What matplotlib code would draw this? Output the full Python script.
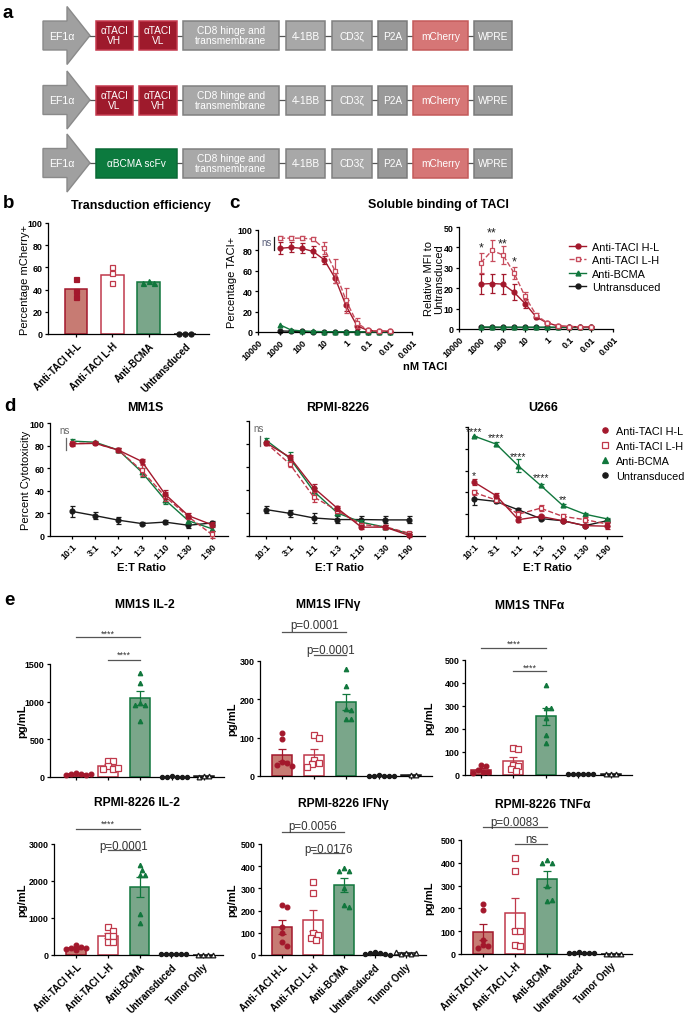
import numpy as np
import matplotlib
matplotlib.use('Agg')
import matplotlib.pyplot as plt
import matplotlib.transforms as mtransforms
from matplotlib.patches import Polygon, Rectangle
from matplotlib.lines import Line2D

plt.rcParams['font.family'] = ['Liberation Sans', 'DejaVu Sans']
plt.rcParams['axes.linewidth'] = 0.9

# ---------------- data ----------------
promoter = 'EF1α'
construct_rows = [
    ['αTACI\nVH', 'αTACI\nVL', 'CD8 hinge and\ntransmembrane', '4-1BB', 'CD3ζ', 'P2A', 'mCherry', 'WPRE'],
    ['αTACI\nVL', 'αTACI\nVH', 'CD8 hinge and\ntransmembrane', '4-1BB', 'CD3ζ', 'P2A', 'mCherry', 'WPRE'],
    ['αBCMA scFv', 'CD8 hinge and\ntransmembrane', '4-1BB', 'CD3ζ', 'P2A', 'mCherry', 'WPRE'],
]

b_groups = ['Anti-TACI H-L', 'Anti-TACI L-H', 'Anti-BCMA', 'Untransduced']
b_means = [40.5, 53.0, 46.5, 0.0]
b_points = [[50, 39, 33.5], [60, 55, 46], [48, 46, 46], [0, 0, 0]]

c_conc = [1000, 316, 100, 31.6, 10, 3.16, 1, 0.316, 0.1, 0.0316, 0.01]
c_ticks = [10000, 1000, 100, 10, 1, 0.1, 0.01, 0.001]
c_tick_labels = ['10000', '1000', '100', '10', '1', '0.1', '0.01', '0.001']
c_series = ['Anti-TACI H-L', 'Anti-TACI L-H', 'Anti-BCMA', 'Untransduced']
c_pct_HL = [82, 83, 82, 79, 71, 53, 26, 6, 1.5, 1, 0.8]
c_pct_HL_err = [6, 5, 5, 5, 4, 5, 5, 3, 1, 0.5, 0.5]
c_pct_LH = [92, 92, 92, 91, 82, 60, 31, 9, 1.5, 1, 0.8]
c_pct_LH_err = [2, 2, 2, 2, 6, 12, 12, 5, 1, 0.5, 0.5]
c_pct_BCMA = [7, 2, 1, 0.5, 0.3, 0.2, 0.2, 0.1, 0.1, 0.1, 0.1]
c_pct_UT = [1, 0.8, 0.5, 0.4, 0.3, 0.2, 0.2, 0.1, 0.1, 0.1, 0.1]
c_mfi_HL = [22, 22.3, 22, 18, 12.5, 6, 3, 1.5, 1.2, 1.1, 1.0]
c_mfi_HL_err = [5, 4.7, 5, 4, 2, 1, 0.5, 0.3, 0.2, 0.1, 0.1]
c_mfi_LH = [32.5, 38.5, 36.3, 27.5, 16, 7, 3, 1.6, 1.2, 1.1, 1.0]
c_mfi_LH_err = [5, 5, 4.5, 3, 2, 1, 0.5, 0.3, 0.2, 0.1, 0.1]
c_mfi_BCMA = [1.0, 1.0, 0.9, 0.9, 0.9, 0.9, 0.9, 0.9, 0.9, 0.9, 0.9]
c_mfi_UT = [1.0] * 11

d_ratios = ['10:1', '3:1', '1:1', '1:3', '1:10', '1:30', '1:90']
d_lines = ['MM1S', 'RPMI-8226', 'U266']
d_HL = [[81.5, 82, 76, 66, 37, 18, 10], [81, 68.6, 42, 24, 7.7, 7.7, 0.5], [49.5, 37, 15, 18, 14, 9.5, 9]]
d_HL_err = [[1.5, 1, 1.5, 2, 4, 2, 2], [2, 2, 3, 2, 2, 1.5, 1], [2.5, 2, 2.5, 1.5, 1.5, 1.5, 2.5]]
d_LH = [[82, 82, 76, 58, 35, 17, 1.5], [81, 62.6, 34, 22, 10, 8, 2.5], [40, 33, 20, 25.5, 18, 15, 11]]
d_LH_err = [[1.5, 1, 1.5, 5, 4, 2, 3], [2, 3, 4, 2, 1.5, 1.5, 1], [2.5, 2, 2.5, 3, 2, 2, 2]]
d_BCMA = [[84, 83, 76, 56.5, 32, 13.5, 6.5], [83.4, 67.7, 39, 20, 12, 7.7, 2], [91.7, 84.3, 64.3, 46.5, 28, 20, 15.7]]
d_BCMA_err = [[1.5, 1, 1.5, 4, 4, 2, 2], [2, 5, 3, 2, 2, 1.5, 1.5], [0.5, 2, 6, 1.5, 1, 1, 1]]
d_UT = [[21.8, 18, 14, 11, 12.3, 9.5, 11.5], [23, 19.7, 15.7, 14.3, 14.3, 14, 14], [34, 31.7, 24, 16, 14, 9.5, 14]]
d_UT_err = [[5, 3, 3, 1.5, 1.5, 2, 2], [3, 3, 4, 3, 3, 3, 3], [6, 1.5, 2, 1, 1, 1.5, 1.5]]

e_groups = ['Anti-TACI H-L', 'Anti-TACI L-H', 'Anti-BCMA', 'Untransduced', 'Tumor Only']
e_titles = ['MM1S IL-2', 'MM1S IFNγ', 'MM1S TNFα', 'RPMI-8226 IL-2', 'RPMI-8226 IFNγ', 'RPMI-8226 TNFα']
e_ymax = [1500, 300, 500, 3000, 500, 500]
e_ystep = [500, 100, 100, 1000, 100, 100]
e_data = [
    [[50, 45, 38, 30, 25, 35], [215, 210, 150, 100, 105, 115], [1380, 1250, 983, 957, 957, 739], [8, 6, 5, 4, 3, 5], [10, 8, 6]],
    [[112, 97, 37, 35, 28, 26], [106, 99, 42, 33, 31, 24], [279, 234, 175, 171, 150, 150], [2, 1, 1, 1, 1, 1], [3, 2]],
    [[42, 38, 22, 15, 12, 10], [117, 114, 45, 38, 26, 19], [390, 293, 293, 247, 173, 139], [6, 5, 4, 4, 3, 5], [5, 4, 3]],
    [[260, 220, 200, 180, 150, 130], [748, 658, 523, 523, 342, 342], [2432, 2306, 2162, 2162, 1108, 865], [25, 20, 20, 15, 15, 20], [10, 10, 10, 10]],
    [[224, 214, 126, 98, 59, 41], [330, 279, 98, 90, 78, 68], [392, 380, 380, 300, 223, 214], [12, 10, 8, 5, 3, 2], [10, 6, 3, 8, 12]],
    [[221, 193, 63, 41, 37, 26], [421, 365, 102, 102, 39, 37], [414, 399, 399, 297, 234, 238], [8, 6, 5, 5, 4, 3], [2, 2, 2, 2]],
]
e_sig = [
    ('****', '****'), ('p=0.0001', 'p=0.0001'), ('****', '****'),
    ('****', 'p=0.0001'), ('p=0.0056', 'p=0.0176'), ('p=0.0083', 'ns'),
]

# ---------------- style ----------------
HL = '#a3182c'
LH = '#c0394b'
LHc = '#c74c5d'
GR = '#11773d'
BK = '#1a1a1a'
HL_FILL = '#c77b73'
GR_FILL = '#7aa68a'

W, H = 685, 1020
fig = plt.figure(figsize=(W / 100, H / 100), dpi=100)
ax0 = fig.add_axes([0, 0, 1, 1])
ax0.set_xlim(0, W)
ax0.set_ylim(H, 0)
ax0.axis('off')
ax0.set_zorder(10)
PIX = ax0.transData

TICK_FS = 6.4
CAT_FS = 6.9
LAB_FS = 8.0
TITLE_FS = 9.0
LET_FS = 13.5


def pax(l, t, r, b):
    return fig.add_axes([l / W, 1 - b / H, (r - l) / W, (b - t) / H])


def gp(ax, fs=TICK_FS):
    for s in ['top', 'right']:
        ax.spines[s].set_visible(False)
    for s in ['left', 'bottom']:
        ax.spines[s].set_linewidth(0.9)
    ax.tick_params(direction='out', length=2.5, width=0.9, labelsize=fs, pad=1.5)
    plt.setp(ax.get_xticklabels() + ax.get_yticklabels(), fontweight='bold')
    ax.patch.set_alpha(0)


def txt(x, y, s, **kw):
    kw.setdefault('ha', 'center')
    kw.setdefault('va', 'center')
    ax0.text(x, y, s, **kw)


def star(ax, x, y, s, fs=6, color='#222'):
    ax.annotate(s, (x, y), xytext=(0, -0.32 * fs), textcoords='offset points',
                ha='center', va='center', fontsize=fs, color=color, annotation_clip=False)


def swarm_x(ax, x0, ys, d=5.0):
    placed, xs = [], []
    inv = ax.transData.inverted()
    cands = [0]
    for k in range(1, 10):
        cands += [k * 0.5, -k * 0.5]
    for y in ys:
        X, Y = ax.transData.transform((x0, y))
        for c in cands:
            px = X + c * d
            if all((px - qx) ** 2 + (Y - qy) ** 2 >= (0.95 * d) ** 2 for qx, qy in placed):
                break
        placed.append((px, Y))
        xs.append(inv.transform((px, Y))[0])
    return xs


# ---------------- panel a ----------------
slot_x = [(96, 133), (139, 177), (183, 279), (286, 325), (332, 372), (378, 407), (413, 468), (474, 512)]
row_c = [36.5, 101, 164]


def box_style(lbl):
    if lbl.startswith('αTACI'):
        return '#9e1a2c', '#c53a4e'
    if lbl.startswith('αBCMA'):
        return '#0c7a3e', '#0a6a35'
    if lbl == 'mCherry':
        return '#d67676', '#c45a5a'
    if lbl in ('P2A', 'WPRE'):
        return '#999999', '#7a7a7a'
    return '#a8a8a8', '#808080'


for r, labels in enumerate(construct_rows):
    yc = row_c[r]
    ax0.plot([88, 476], [yc, yc], color='#555555', lw=0.9, zorder=1)
    arrow = Polygon([(43, yc - 14.5), (67, yc - 14.5), (67, yc - 29), (90, yc), (67, yc + 29),
                     (67, yc + 14.5), (43, yc + 14.5)], closed=True, fc='#a0a0a0', ec='#8a8a8a', lw=1, zorder=2)
    ax0.add_patch(arrow)
    txt(62, yc, promoter, color='white', fontsize=7.6, zorder=3)
    slots = list(slot_x)
    if len(labels) == 7:
        slots = [(slot_x[0][0], slot_x[1][1])] + slot_x[2:]
    for (x0, x1), lbl in zip(slots, labels):
        fc, ec = box_style(lbl)
        ax0.add_patch(Rectangle((x0, yc - 14.5), x1 - x0, 29, fc=fc, ec=ec, lw=1.1, zorder=2))
        txt((x0 + x1) / 2, yc, lbl, color='white', fontsize=7.3, linespacing=1.0, zorder=3)

txt(3, 13, 'a', fontsize=LET_FS, fontweight='bold', ha='left')

# ---------------- panel b ----------------
axb = pax(48, 224, 209, 335)
xb = np.arange(len(b_groups))
axb.set_xlim(-0.77, 3.66)
axb.set_ylim(0, 100)
b_fill = [HL_FILL, 'white', GR_FILL, 'white']
b_edge = [HL, LH, GR, BK]
axb.bar(xb, b_means, width=0.63, color=b_fill, edgecolor=b_edge, linewidth=1.1, zorder=2)
b_mk = ['s', 's', '^', 'o']
b_mfc = [HL, 'white', GR, BK]
for i in range(len(b_groups)):
    xs = swarm_x(axb, xb[i], b_points[i], 5.8)
    axb.plot(xs, b_points[i], ls='none', marker=b_mk[i], ms=3.6, mfc=b_mfc[i], mec=b_edge[i], mew=0.9,
             zorder=3, clip_on=False)
axb.set_yticks(range(0, 101, 20))
axb.set_xticks(xb)
axb.set_xticklabels(b_groups, rotation=45, ha='right', rotation_mode='anchor')
gp(axb)
axb.tick_params(axis='x', labelsize=CAT_FS, pad=2)
txt(141, 206, 'Transduction efficiency', fontsize=TITLE_FS, fontweight='bold')
txt(25, 280, 'Percentage mCherry+', rotation=90, fontsize=LAB_FS)
txt(3, 204, 'b', fontsize=LET_FS, fontweight='bold', ha='left')

# ---------------- panel c ----------------
axc1 = pax(258, 231, 412, 333)
axc2 = pax(459, 228, 613, 330)
c_left = [(c_pct_HL, c_pct_HL_err), (c_pct_LH, c_pct_LH_err), (c_pct_BCMA, None), (c_pct_UT, None)]
c_right = [(c_mfi_HL, c_mfi_HL_err), (c_mfi_LH, c_mfi_LH_err), (c_mfi_BCMA, None), (c_mfi_UT, None)]
c_col = [HL, LHc, GR, BK]
c_mk = ['o', 's', '^', 'o']
c_mfc = [HL, 'white', GR, BK]
c_ls = ['-', '--', '-', '-']
c_z = [4, 5, 3, 2]
for ax, series, ymax, ystep in [(axc1, c_left, 100, 20), (axc2, c_right, 50, 10)]:
    ax.set_xscale('log')
    for (y, e), col, mk, mfc, ls, z in zip(series, c_col, c_mk, c_mfc, c_ls, c_z):
        ax.errorbar(c_conc, y, yerr=e, color=col, marker=mk, ms=3.5, mfc=mfc, mec=col, mew=0.9, ls=ls,
                    lw=1.0, capsize=1.8, elinewidth=0.9, capthick=0.9, zorder=z, clip_on=False)
    ax.set_xlim(10000, 0.001)
    ax.set_ylim(0, ymax)
    ax.set_yticks(np.arange(0, ymax + 1, ystep))
    ax.set_xticks(c_ticks)
    ax.set_xticklabels(c_tick_labels, rotation=45, ha='right', rotation_mode='anchor')
    ax.minorticks_off()
    gp(ax)
axc1.text(4000, 88, 'ns', ha='center', va='center', fontsize=7, color='#5a5f7a')
axc1.plot([1780, 1780], [80, 93], color=BK, lw=0.9)
for x, y, s in [(1000, 41.8, '*'), (316, 49.5, '**'), (100, 44, '**'), (31.6, 35, '*')]:
    star(axc2, x, y, s, fs=9)
c_handles = [Line2D([], [], color=col, marker=mk, ms=3.5, mfc=mfc, mec=col, ls=ls, lw=1.0)
             for col, mk, mfc, ls in zip(c_col, c_mk, c_mfc, c_ls)]
fig.legend(c_handles, c_series, loc='upper left', bbox_to_anchor=(569 / W, 1 - 243 / H), frameon=False,
           fontsize=7.8, handlelength=1.6, handletextpad=0.5, labelspacing=0.3, borderaxespad=0, borderpad=0)
txt(438, 205, 'Soluble binding of TACI', fontsize=TITLE_FS, fontweight='bold')
txt(232, 282, 'Percentage TACI+', rotation=90, fontsize=LAB_FS)
txt(434, 279, 'Relative MFI to\nUntransduced', rotation=90, fontsize=LAB_FS, linespacing=1.0)
txt(425, 367, 'nM TACI', fontsize=LAB_FS, fontweight='bold')
txt(229, 203, 'c', fontsize=LET_FS, fontweight='bold', ha='left')

# ---------------- panel d ----------------
d_boxes = [(50, 424, 228, 537), (249, 422, 425, 537), (468, 428, 622, 537)]
d_xlims = [(-0.94, 6.7), (-0.71, 6.67), (-0.27, 6.67)]
d_title_x = [145, 338, 543]
xd = np.arange(len(d_ratios))
d_col = [HL, LH, GR, BK]
d_mk = ['o', 's', '^', 'o']
d_mfc = [HL, 'white', GR, BK]
d_ls = ['-', '--', '-', '-']
d_z = [5, 4, 3, 2]
d_axes = []
for k in range(3):
    ax = pax(*d_boxes[k])
    d_axes.append(ax)
    sets = [(d_HL[k], d_HL_err[k]), (d_LH[k], d_LH_err[k]), (d_BCMA[k], d_BCMA_err[k]), (d_UT[k], d_UT_err[k])]
    for (y, e), col, mk, mfc, ls, z in zip(sets, d_col, d_mk, d_mfc, d_ls, d_z):
        ax.errorbar(xd, y, yerr=e, color=col, marker=mk, ms=3.5, mfc=mfc, mec=col, mew=0.9, ls=ls,
                    lw=1.0, capsize=1.8, elinewidth=0.9, capthick=0.9, zorder=z, clip_on=False)
    ax.set_xlim(*d_xlims[k])
    ax.set_ylim(0, 100)
    ax.set_yticks(range(0, 101, 20))
    ax.set_xticks(xd)
    ax.set_xticklabels(d_ratios, rotation=45, ha='right', rotation_mode='anchor')
    if k > 0:
        ax.set_yticklabels([])
    gp(ax)
    cx = (d_boxes[k][0] + d_boxes[k][2]) / 2
    txt(d_title_x[k], 408, d_lines[k], fontsize=TITLE_FS, fontweight='bold')
    txt(cx + 2, 568, 'E:T Ratio', fontsize=LAB_FS, fontweight='bold')

d_axes[0].text(-0.3, 93.8, 'ns', ha='center', va='center', fontsize=7, color='#666666')
d_axes[0].plot([-0.26, -0.26], [76, 87], color='#666666', lw=0.9)
d_axes[1].text(-0.29, 94, 'ns', ha='center', va='center', fontsize=7, color='#666666')
d_axes[1].plot([-0.25, -0.25], [78, 87], color='#666666', lw=0.9)
for x, y, s in [(0, 99.7, '****'), (1, 94, '****'), (2, 76.6, '****'), (3, 57, '****'), (4, 36.6, '**'),
                (0, 58.8, '*')]:
    star(d_axes[2], x, y, s, fs=7.5)
d_handles = [Line2D([], [], color=col, marker=mk, ms=3.8, mfc=mfc, mec=col, mew=0.9, ls='none')
             for col, mk, mfc in zip(d_col, d_mk, d_mfc)]
fig.legend(d_handles, c_series, loc='upper left', bbox_to_anchor=(601 / W, 1 - 427 / H), frameon=False,
           fontsize=7.8, handlelength=0.8, handletextpad=0.6, labelspacing=0.45, borderaxespad=0, borderpad=0)
txt(26, 480, 'Percent Cytotoxicity', rotation=90, fontsize=LAB_FS)
txt(4, 407, 'd', fontsize=LET_FS, fontweight='bold', ha='left')

# ---------------- panel e ----------------
e_boxes = [(50, 665, 224, 778), (260, 662, 432, 777), (465, 661, 632, 776),
           (54, 845, 223, 956), (261, 845, 426, 956), (461, 841, 632, 955)]
e_xlims = [(-0.81, 4.63), (-0.68, 4.65), (-0.49, 4.65), (-0.70, 4.63), (-0.68, 4.65), (-0.69, 4.66)]
e_title_pos = [(145, 605), (328, 605), (530, 606), (137, 803), (343, 804), (543, 805)]
e_ylab_x = [22, 232, 429, 22, 232, 429]
e_brk = [[(638, 631), (661, 652)], [(633, 625), (656, 650)], [(649, 641), (672, 665)],
         [(830, 821), (851, 846)], [(833, 826), (854, 849)], [(828, 822), (845, 840)]]
e_fill = [HL_FILL, 'white', GR_FILL, 'white', 'white']
e_edge = [HL, LH, GR, BK, BK]
e_mk = ['o', 's', '^', 'o', '^']
e_mfc = [HL, 'white', GR, BK, 'white']
e_ms = [3.4, 3.8, 3.2, 3.0, 3.4]
xe = np.arange(len(e_groups))


def bracket(ax, i, j, ypx, label, ytxt):
    tr = mtransforms.blended_transform_factory(ax.transData, PIX)
    ax.plot([i, j], [ypx, ypx], transform=tr, color='#555555', lw=0.9, clip_on=False)
    if label.startswith('*'):
        fs, off = 6.5, -0.32 * 6.5
    elif label.startswith('p'):
        fs, off = 8.3, -0.1 * 8.3
    else:
        fs, off = 8.3, 0
    ax.annotate(label, ((i + j) / 2, ytxt), xycoords=tr, xytext=(0, off), textcoords='offset points',
                ha='center', va='center', fontsize=fs, color='#333333', annotation_clip=False)


for k in range(6):
    ax = pax(*e_boxes[k])
    ax.set_xlim(*e_xlims[k])
    ax.set_ylim(0, e_ymax[k])
    data = e_data[k]
    means = [np.mean(d) for d in data]
    sems = [np.std(d, ddof=1) / np.sqrt(len(d)) for d in data]
    ax.bar(xe, means, width=0.62, color=e_fill, edgecolor=e_edge, linewidth=1.1, zorder=2)
    for i in range(len(e_groups)):
        ax.errorbar(xe[i], means[i], yerr=sems[i], color=e_edge[i], capsize=2.6, elinewidth=0.9,
                    capthick=0.9, zorder=3)
        xs = swarm_x(ax, xe[i], data[i], 5.0)
        ax.plot(xs, data[i], ls='none', marker=e_mk[i], ms=e_ms[i], mfc=e_mfc[i], mec=e_edge[i], mew=0.9,
                zorder=4, clip_on=False)
    ax.set_yticks(np.arange(0, e_ymax[k] + 1, e_ystep[k]))
    ax.set_xticks(xe)
    if k >= 3:
        ax.set_xticklabels(e_groups, rotation=45, ha='right', rotation_mode='anchor')
    else:
        ax.set_xticklabels([])
    gp(ax)
    ax.tick_params(axis='x', labelsize=CAT_FS, pad=2)
    l1, l2 = e_sig[k]
    (y1, t1), (y2, t2) = e_brk[k]
    bracket(ax, 0, 2, y1, l1, t1)
    bracket(ax, 1, 2, y2, l2, t2)
    txt(e_title_pos[k][0], e_title_pos[k][1], e_titles[k], fontsize=TITLE_FS - 0.3, fontweight='bold')
    cy = (e_boxes[k][1] + e_boxes[k][3]) / 2
    txt(e_ylab_x[k], cy, 'pg/mL', rotation=90, fontsize=LAB_FS, fontweight='bold')

txt(4, 601, 'e', fontsize=LET_FS, fontweight='bold', ha='left')

fig.savefig('out.png', dpi=100)
